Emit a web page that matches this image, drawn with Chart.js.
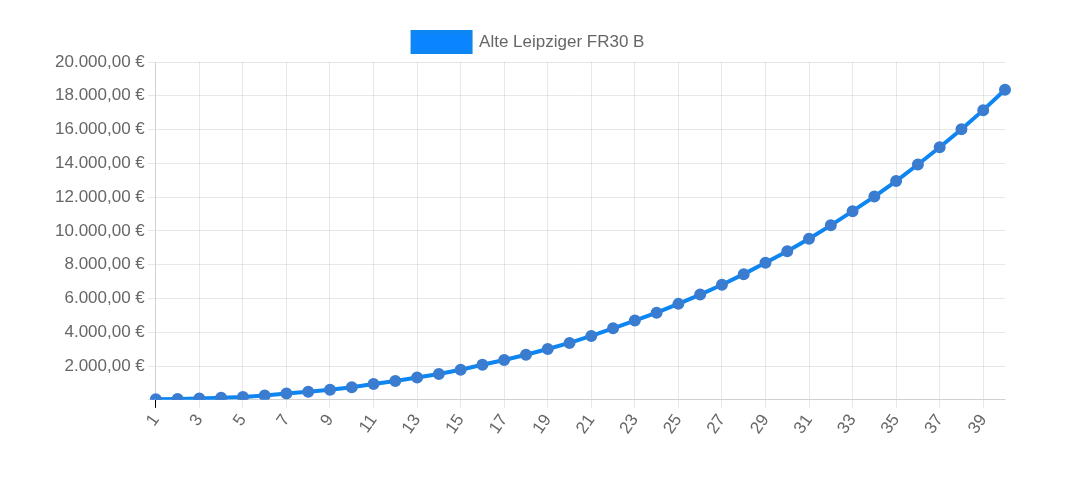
<!DOCTYPE html>
<html>
<head>
<meta charset="utf-8">
<script src="https://cdn.jsdelivr.net/npm/chart.js@4/dist/chart.umd.min.js"></script>
<style>
  html, body { margin: 0; padding: 0; background: #fff; }
  #wrap { width: 1082px; height: 486px; }
</style>
</head>
<body>
<div id="wrap"><canvas id="vertragChart"></canvas></div>
<script>
const jahre = [];
for (let i = 1; i <= 40; i++) jahre.push(String(i));

const seriesName = 'Alte Leipziger FR30 B';
const werte = [
  30, 50, 80, 120, 160, 255, 370, 475, 595, 750,
  930, 1110, 1320, 1530, 1780, 2075, 2360, 2670, 3010, 3370,
  3780, 4230, 4690, 5160, 5680, 6230, 6810, 7440, 8110, 8800,
  9540, 10330, 11170, 12030, 12950, 13930, 14950, 16020, 17150, 18360
];

const yMax = 20000;
const yStep = 2000;

function euro(v) {
  const parts = v.toFixed(2).split('.');
  const ganz = parts[0].replace(/\B(?=(\d{3})+(?!\d))/g, '.');
  return ganz + ',' + parts[1] + ' €';
}

Chart.defaults.font.family = '"Liberation Sans", Arial, sans-serif';
Chart.defaults.color = '#666';

const ctx = document.getElementById('vertragChart').getContext('2d');

new Chart(ctx, {
  type: 'line',
  data: {
    labels: jahre,
    datasets: [{
      label: seriesName,
      data: werte,
      borderColor: '#0d86f2',
      backgroundColor: '#0a84ff',
      borderWidth: 4,
      pointRadius: 4,
      pointBackgroundColor: '#3a7cd0',
      pointBorderColor: '#3a7cd0',
      fill: false,
      tension: 0
    }]
  },
  options: {
    responsive: true,
    maintainAspectRatio: false,
    animation: false,
    layout: {
      padding: { left: 52, right: 77, top: 16, bottom: 45 }
    },
    plugins: {
      legend: {
        labels: {
          boxWidth: 58,
          boxHeight: 20,
          padding: 16,
          font: { size: 17 },
          color: '#666'
        }
      },
      tooltip: { enabled: false }
    },
    scales: {
      x: {
        grid: {
          color: 'rgba(0,0,0,0.09)',
          tickColor: (c) => c.index === 0 ? '#000' : 'rgba(0,0,0,0.09)'
        },
        ticks: {
          font: { size: 17 },
          autoSkip: true,
          maxTicksLimit: 20,
          minRotation: 55,
          maxRotation: 55
        }
      },
      y: {
        min: 0,
        max: yMax,
        grid: { color: 'rgba(0,0,0,0.09)' },
        ticks: {
          stepSize: yStep,
          font: { size: 17 },
          callback: (value) => value === 0 ? '' : euro(value)
        }
      }
    }
  }
});
</script>
</body>
</html>
